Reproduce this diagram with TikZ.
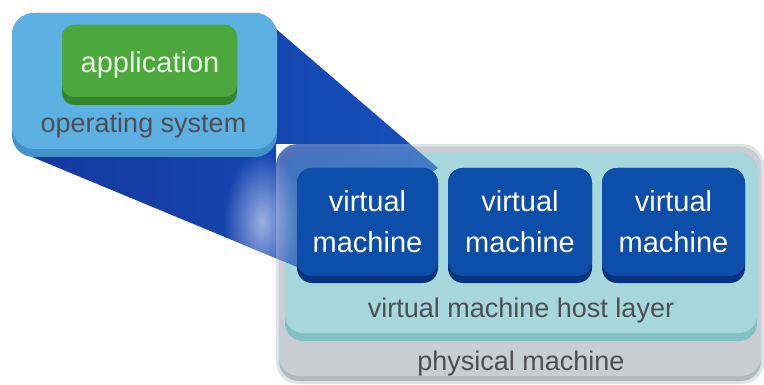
\documentclass[tikz,border=0pt]{standalone}
\usepackage{fontspec}
\setmainfont{Liberation Sans}
\usetikzlibrary{fadings}
\definecolor{osblue}{RGB}{92,176,226}
\definecolor{osedge}{RGB}{66,146,200}
\definecolor{appgreen}{RGB}{76,168,60}
\definecolor{appedge}{RGB}{52,134,42}
\definecolor{vmblue}{RGB}{12,78,170}
\definecolor{vmedge}{RGB}{6,52,125}
\definecolor{hostteal}{RGB}{166,216,219}
\definecolor{hostedge}{RGB}{130,192,198}
\definecolor{physgrey}{RGB}{200,206,212}
\definecolor{physedge}{RGB}{176,184,192}
\definecolor{physrim}{RGB}{222,227,231}
\definecolor{fundark}{RGB}{20,56,158}
\definecolor{funmid}{RGB}{22,80,188}
\definecolor{funglow}{RGB}{190,202,240}
\definecolor{greytext}{RGB}{78,78,82}
\definecolor{apptext}{RGB}{232,244,225}
\tikzfading[name=softglow, inner color=transparent!0, outer color=transparent!100]
\newcommand\myfs[1]{\fontsize{#1}{#1}\selectfont}
\newcommand\funnelpath{(268,22) -- (438,168) -- (297,267) -- (25,154) -- (30,30) -- cycle}
\begin{document}
\begin{tikzpicture}[x=1pt,y=-1pt,
  graylabel/.style={anchor=base, text=greytext, font=\myfs{27}, inner sep=0pt},
  vmlabel/.style={anchor=base, text=white, font=\myfs{29}, inner sep=0pt},
  funnelfill/.style={left color=fundark, right color=funmid}]
\useasboundingbox (0,0) rectangle (764,385);
% physical machine
\fill[physrim, rounded corners=22] (276,144) rectangle (764,384);
\fill[physedge, rounded corners=20] (279,147) rectangle (761,381);
\fill[physgrey, rounded corners=20] (279,147) rectangle (761,376);
% host layer
\fill[hostedge, rounded corners=18] (285,153) rectangle (757,341);
\fill[hostteal, rounded corners=18] (285,153) rectangle (757,333);
% funnel, opaque outside the physical machine
\begin{scope}
  \clip (0,0) -- (764,0) -- (764,144) -- (276,144) -- (276,385) -- (0,385) -- cycle;
  \shade[funnelfill] \funnelpath;
\end{scope}
% funnel, translucent over the physical machine
\begin{scope}
  \clip[rounded corners=22] (276,144) rectangle (764,384);
  \shade[funnelfill, opacity=0.68] \funnelpath;
\end{scope}
% soft light where the funnel meets the machine
\begin{scope}
  \clip \funnelpath;
  \fill[funglow, opacity=0.8, path fading=softglow]
    (262,222) ellipse (38 and 70);
\end{scope}
% virtual machines
\foreach \xa/\xb in {297/438, 448/592, 602/745}{
  \fill[vmedge, rounded corners=15] (\xa,168) rectangle (\xb,283);
  \fill[vmblue, rounded corners=15] (\xa,168) rectangle (\xb,276);
}
% operating system box
\fill[osedge, rounded corners=22] (12,13) rectangle (277,157);
\fill[osblue, rounded corners=22] (12,13) rectangle (277,149);
% application box
\fill[appedge, rounded corners=12] (62,25) rectangle (237,105);
\fill[appgreen, rounded corners=12] (62,25) rectangle (237,97);
% labels
\node[anchor=base, text=apptext, font=\myfs{29}, inner sep=0pt] (app) at (150,73) {application};
\node[graylabel] (os) at (143.5,133) {operating system};
\node[graylabel] (host) at (521,317) {virtual machine host layer};
\node[graylabel] (phys) at (521,370) {physical machine};
\node[vmlabel] (vm1a) at (367.5,212) {virtual};
\node[vmlabel] (vm1b) at (367.5,253) {machine};
\node[vmlabel] (vm2a) at (520,212) {virtual};
\node[vmlabel] (vm2b) at (520,253) {machine};
\node[vmlabel] (vm3a) at (673.5,212) {virtual};
\node[vmlabel] (vm3b) at (673.5,253) {machine};
\end{tikzpicture}
\end{document}
